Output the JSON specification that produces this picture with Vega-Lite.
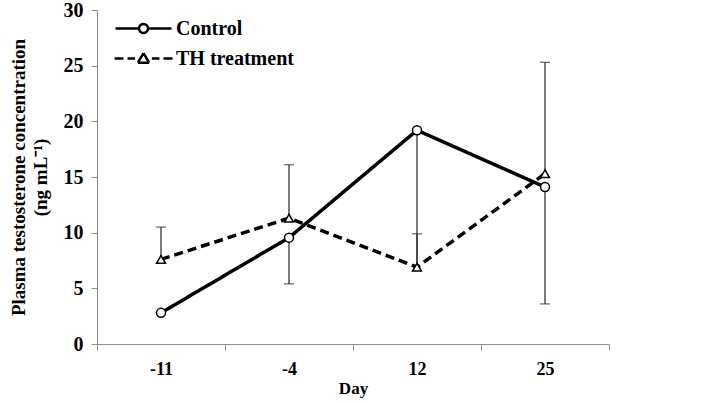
{
  "$schema": "https://vega.github.io/schema/vega-lite/v6.json",
  "width": 512,
  "height": 334,
  "autosize": "none",
  "padding": {"left": 97, "top": 10, "right": 100, "bottom": 60},
  "background": "white",
  "config": {
    "view": {"stroke": null},
    "font": "Liberation Serif"
  },
  "datasets": {
    "means": [
      {"day": "-11", "series": "Control", "value": 2.8},
      {"day": "-4", "series": "Control", "value": 9.55},
      {"day": "12", "series": "Control", "value": 19.2},
      {"day": "25", "series": "Control", "value": 14.1},
      {"day": "-11", "series": "TH treatment", "value": 7.6},
      {"day": "-4", "series": "TH treatment", "value": 11.3},
      {"day": "12", "series": "TH treatment", "value": 6.9},
      {"day": "25", "series": "TH treatment", "value": 15.3}
    ],
    "errs": [
      {"day": "-4", "series": "Control", "lo": 5.4, "hi": 9.55, "cap": 5.4},
      {"day": "12", "series": "Control", "lo": 6.6, "hi": 19.2, "cap": 6.6},
      {"day": "25", "series": "Control", "lo": 3.6, "hi": 14.1, "cap": 3.6},
      {"day": "-11", "series": "TH treatment", "lo": 7.6, "hi": 10.5, "cap": 10.5},
      {"day": "-4", "series": "TH treatment", "lo": 11.3, "hi": 16.1, "cap": 16.1},
      {"day": "12", "series": "TH treatment", "lo": 6.9, "hi": 9.9, "cap": 9.9},
      {"day": "25", "series": "TH treatment", "lo": 15.3, "hi": 25.3, "cap": 25.3}
    ]
  },
  "encoding": {
    "x": {
      "field": "day",
      "type": "nominal",
      "sort": ["-11", "-4", "12", "25"],
      "scale": {"type": "band", "paddingInner": 0, "paddingOuter": 0},
      "axis": {
        "title": "Day",
        "labelAngle": 0,
        "tickBand": "extent",
        "domainColor": "#8c8c8c",
        "tickColor": "#8c8c8c",
        "tickSize": 6,
        "labelFont": "Liberation Serif",
        "labelFontWeight": "bold",
        "labelFontSize": 18,
        "labelColor": "black",
        "labelPadding": 10,
        "titleFont": "Liberation Serif",
        "titleFontWeight": "bold",
        "titleFontSize": 17,
        "titleColor": "black",
        "titlePadding": 2,
        "grid": false
      }
    }
  },
  "layer": [
    {
      "data": {"name": "errs"},
      "mark": {"type": "rule", "color": "#333333", "strokeWidth": 1.3},
      "encoding": {
        "y": {"field": "lo", "type": "quantitative"},
        "y2": {"field": "hi"}
      }
    },
    {
      "data": {"name": "errs"},
      "mark": {"type": "tick", "color": "#333333", "thickness": 1.3, "size": 10, "orient": "horizontal"},
      "encoding": {
        "y": {"field": "cap", "type": "quantitative"}
      }
    },
    {
      "data": {"name": "means"},
      "mark": {"type": "line", "color": "black", "strokeWidth": 3.5},
      "encoding": {
        "y": {
          "field": "value",
          "type": "quantitative",
          "scale": {"domain": [0, 30]},
          "axis": {
            "title": ["Plasma testosterone concentration", "(ng mL⁻¹)"],
            "values": [0, 5, 10, 15, 20, 25, 30],
            "grid": false,
            "domainColor": "#8c8c8c",
            "tickColor": "#8c8c8c",
            "tickSize": 6,
            "labelFont": "Liberation Serif",
            "labelFontWeight": "bold",
            "labelFontSize": 20,
            "labelColor": "black",
            "labelPadding": 8,
            "titleFont": "Liberation Serif",
            "titleFontWeight": "bold",
            "titleFontSize": 19,
            "titleColor": "black",
            "titleLineHeight": 22,
            "titlePadding": 13
          }
        },
        "strokeDash": {
          "field": "series",
          "type": "nominal",
          "scale": {"domain": ["Control", "TH treatment"], "range": [[1, 0], [9, 5]]},
          "legend": {
            "title": null,
            "orient": "none",
            "legendX": 31,
            "legendY": 3,
            "padding": 0,
            "rowPadding": 4,
            "symbolSize": 784,
            "symbolType": {"expr": "datum.value === 'Control' ? 'M-2,0L-0.32,0M0.32,0L2,0M-0.32,0A0.32,0.32 0 1,0 0.32,0A0.32,0.32 0 1,0 -0.32,0Z' : 'M-2.07,0L-1.43,0M-1.14,0L-0.6,0M0.6,0L1.14,0M1.43,0L2.07,0M-0.4,0.3L-0.2,-0.045M-0.2,-0.045L0,-0.39M0,-0.39L0.2,-0.045M0.2,-0.045L0.4,0.3M0.4,0.3L0,0.3M0,0.3L-0.4,0.3'"},
            "symbolStrokeWidth": 2.5,
            "symbolStrokeColor": "black",
            "symbolFillColor": "white",
            "symbolOpacity": 1,
            "labelOffset": 17,
            "labelFont": "Liberation Serif",
            "labelFontWeight": "bold",
            "labelFontSize": 20,
            "labelColor": "black"
          }
        }
      }
    },
    {
      "data": {"name": "means"},
      "transform": [{"filter": "datum.series === 'Control'"}],
      "mark": {"type": "point", "shape": "circle", "filled": true, "fill": "white", "stroke": "black", "strokeWidth": 1.5, "size": 80, "opacity": 1},
      "encoding": {
        "y": {"field": "value", "type": "quantitative"}
      }
    },
    {
      "data": {"name": "means"},
      "transform": [{"filter": "datum.series === 'TH treatment'"}],
      "mark": {"type": "point", "shape": "triangle-up", "filled": true, "fill": "white", "stroke": "black", "strokeWidth": 1.5, "size": 80, "opacity": 1},
      "encoding": {
        "y": {"field": "value", "type": "quantitative"}
      }
    }
  ]
}
